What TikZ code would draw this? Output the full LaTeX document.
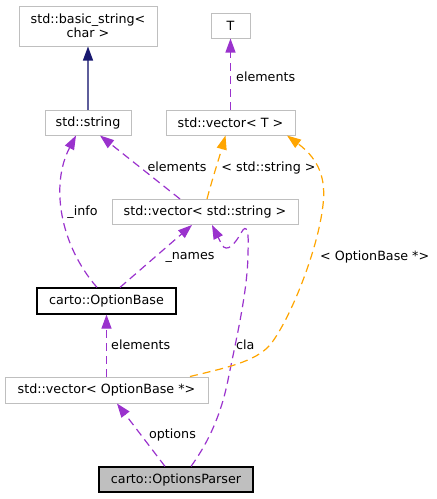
\documentclass[tikz,border=0pt]{standalone}
\usepackage{fontspec}
\setmainfont{DejaVu Sans}
\usetikzlibrary{arrows.meta}
\definecolor{grey75}{HTML}{BFBFBF}
\definecolor{dorchid}{HTML}{9A32CD}
\definecolor{orng}{HTML}{FFA500}
\definecolor{mnblue}{HTML}{191970}
\begin{document}
\begin{tikzpicture}[x=1pt,y=-1pt,
  every node/.style={font=\fontsize{12.7}{14.5}\selectfont, inner sep=0pt},
  box/.style={draw=grey75, line width=1pt, fill=white, align=center},
  blackbox/.style={draw=black, line width=1.2pt, fill=white},
  lbl/.style={anchor=base},
  tip/.style={-{Triangle[length=14pt,width=10pt]}},
  rel/.style={tip, draw=dorchid, line width=1.2pt, dash pattern=on 8pt off 5pt},
  tmpl/.style={tip, draw=orng, line width=1.2pt, dash pattern=on 8pt off 5pt},
  inh/.style={-{Triangle[length=14pt,width=10pt,color=mnblue]}, draw=mnblue!70!white, line width=1.3pt}]
\useasboundingbox (0,0) rectangle (437,499);
% nodes
\node[box, minimum width=138pt, minimum height=40pt] (bs) at (88,26) {std::basic\_string<\\char >};
\node[box, minimum width=39pt, minimum height=25pt] (T) at (230.5,25.5) {T};
\node[box, minimum width=86pt, minimum height=25pt] (str) at (88,122.5) {std::string};
\node[box, minimum width=129pt, minimum height=25pt] (vT) at (230.5,122.5) {std::vector< T >};
\node[box, minimum width=186pt, minimum height=25pt] (vs) at (205,212) {std::vector< std::string >};
\node[blackbox, minimum width=139pt, minimum height=26pt] (ob) at (106.5,301) {carto::OptionBase};
\node[box, minimum width=203pt, minimum height=26pt] (vob) at (106.5,390) {std::vector< OptionBase *>};
\node[blackbox, fill=grey75, minimum width=154pt, minimum height=25pt] (op) at (176,479.5) {carto::OptionsParser};
% edges
\draw[inh] (str.north) -- (bs.south);
\draw[rel] (vT.north) -- (T.south);
\draw[rel] ([xshift=-25pt]vs.north) -- ([xshift=12pt]str.south);
\draw[tmpl] ([xshift=2pt]vs.north) .. controls (212,180) and (220,155) .. ([xshift=-5pt]vT.south);
\draw[rel] ([xshift=-9.5pt]ob.north) .. controls (60,245) and (50,185) .. ([xshift=-12pt]str.south);
\draw[rel] ([xshift=13.5pt]ob.north) -- ([xshift=-13pt]vs.south);
\draw[rel] ([xshift=15pt]op.north) .. controls (205,447) and (220,420) .. (228,380)
   .. controls (236,340) and (248,290) .. (248,252)
   .. controls (249,232) and (247,222) .. (241,233)
   .. controls (235,244) and (227,253) .. (222,245) -- ([xshift=7pt]vs.south);
\draw[tmpl] ([xshift=83.5pt]vob.north) .. controls (225,368) and (255,362) .. (270,345)
   .. controls (290,320) and (318,250) .. (323,205)
   .. controls (326,180) and (320,160) .. ([xshift=56.5pt]vT.south);
\draw[rel] (vob.north) -- (ob.south);
\draw[rel] ([xshift=-11pt]op.north) -- ([xshift=10.5pt]vob.south);
% labels
\node[lbl, anchor=base west] (l1) at (236,81.5) {elements};
\node[lbl] (l2) at (177,171) {elements};
\node[lbl] (l3) at (268.5,171) {< std::string >};
\node[lbl] (l4) at (82.5,215) {\_info};
\node[lbl] (l5) at (190,259) {\_names};
\node[lbl, anchor=base west] (l6) at (320,260) {< OptionBase *>};
\node[lbl, anchor=base west] (l7) at (111,349) {elements};
\node[lbl, anchor=base west] (l8) at (236,349) {cla};
\node[lbl] (l9) at (172.5,438) {options};
\end{tikzpicture}
\end{document}
